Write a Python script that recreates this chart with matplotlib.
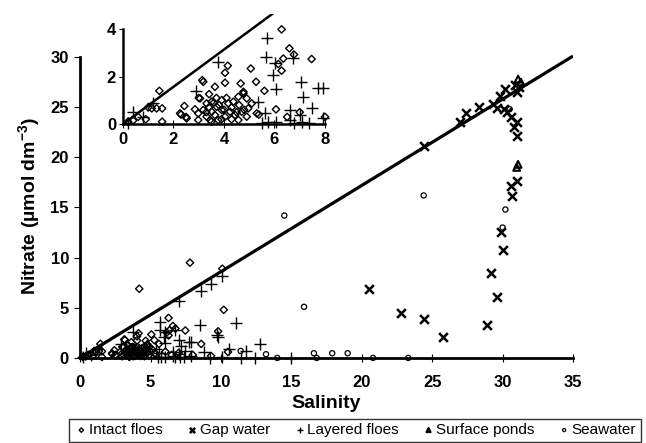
import numpy as np
import matplotlib.pyplot as plt

plt.rcParams['font.family'] = ['Liberation Sans', 'DejaVu Sans']
plt.rcParams['mathtext.fontset'] = 'custom'
plt.rcParams['mathtext.bf'] = 'Liberation Sans:bold'
plt.rcParams['mathtext.rm'] = 'Liberation Sans:bold'
plt.rcParams['mathtext.default'] = 'bf'

# salinity / nitrate pairs
intact_s = [0.2, 0.4, 0.6, 0.9, 1.0, 1.14, 1.33, 1.55, 1.44, 1.55,
            2.26, 2.43, 2.3, 2.5, 2.52, 2.85, 2.98, 2.98, 3.0, 3.05,
            3.14, 3.18, 3.18, 3.31, 3.31, 3.41, 3.45, 3.51, 3.51, 3.64,
            3.64, 3.71, 3.77, 3.91, 3.91, 4.04, 4.04, 4.04, 4.15, 4.17,
            4.24, 4.37, 4.44, 4.57, 4.57, 4.66, 4.7, 4.77, 4.77, 4.9,
            4.9, 4.96, 5.06, 5.1, 5.27, 5.3, 5.38, 5.6, 6.06, 6.15,
            6.28, 6.35, 6.28, 6.59, 6.77, 7.47,
            3.6, 3.8, 3.4, 4.0, 4.3, 4.5, 3.7, 4.1, 4.6, 3.3, 3.9, 4.3, 3.5, 4.8,
            4.2, 7.8, 10.1, 10.2, 9.8, 8.6, 10.5, 9.3, 8.0, 7.0, 6.5]
intact_n = [0.1, 0.15, 0.3, 0.2, 0.7, 0.66, 0.66, 0.66, 1.40, 0.1,
            0.45, 0.76, 0.4, 0.3, 0.24, 0.62, 0.45, 0.17, 1.1, 1.08,
            1.85, 1.78, 0.59, 0.87, 0.31, 1.26, 0.17, 0.94, 0.52, 1.57,
            0.38, 0.73, 0.17, 1.01, 0.59, 2.16, 1.74, 0.31, 2.46, 0.87,
            0.52, 0.94, 0.38, 1.15, 0.17, 1.71, 0.52, 1.29, 1.36, 1.08,
            0.31, 0.66, 2.34, 0.87, 1.78, 0.45, 0.4, 1.4, 0.62, 2.53,
            2.25, 2.76, 3.99, 3.19, 2.93, 2.74,
            0.9, 0.8, 0.7, 0.6, 0.7, 0.5, 1.1, 1.1, 0.8, 0.5, 0.2, 0.2, 0.1, 0.6,
            6.9, 9.5, 8.9, 4.8, 2.65, 1.4, 0.6, 0.2, 0.3, 0.5, 0.3]

gap_s = [20.5, 22.8, 24.4, 25.8, 28.9, 29.6, 29.2, 30.0, 29.9, 30.7,
         30.6, 31.0, 31.0, 31.0, 30.3, 30.6, 30.1, 24.4, 27.0, 27.4,
         28.3, 29.3, 29.8, 30.2, 30.9, 31.2, 31.0, 29.6, 30.8]
gap_n = [6.9, 4.5, 3.9, 2.1, 3.3, 6.1, 8.5, 10.8, 12.6, 16.1,
         17.1, 17.6, 22.1, 23.5, 24.5, 24.0, 24.8, 21.1, 23.5, 24.4,
         25.0, 25.3, 26.1, 26.8, 27.2, 27.0, 26.5, 24.9, 23.0]

layered_s = [0.41, 0.8, 0.2, 1.2, 2.89, 3.78, 5.69, 5.66, 6.02, 5.95,
             6.06, 6.75, 7.05, 7.14, 7.71, 7.91, 7.47, 5.36, 6.61, 5.62,
             7.01, 7.91, 5.52, 5.75, 6.05, 6.62, 6.77, 7.08, 7.37,
             8.6, 9.3, 10.1, 7.0, 11.1, 8.5, 9.7, 9.8, 12.8, 11.8,
             10.6, 8.8, 9.2, 10.1, 11.4, 12.4, 15.0]
layered_n = [0.52, 0.31, 0.05, 0.9, 1.40, 2.6, 3.61, 2.81, 2.58, 2.06,
             1.46, 2.79, 1.78, 1.15, 1.54, 1.54, 0.66, 0.94, 0.59, 0.45,
             0.38, 0.24, 0.05, 0.08, 0.1, 0.15, 0.05, 0.1, 0.05,
             6.7, 7.4, 8.2, 5.7, 3.5, 3.3, 2.3, 2.1, 1.4, 0.7,
             0.9, 0.6, 0.0, 0.1, 0.0, 0.0, 0.0]

ponds_s = [31.1, 31.0, 31.3, 31.1]
ponds_n = [19.3, 19.0, 27.5, 27.8]

sea_s = [24.4, 30.5, 30.2, 30.0, 15.9, 14.5, 13.2, 16.6, 17.9, 19.0,
         14.0, 16.8, 20.8, 23.3, 11.4]
sea_n = [16.2, 24.8, 14.8, 13.0, 5.1, 14.2, 0.37, 0.47, 0.47, 0.47,
         0.0, 0.0, 0.0, 0.0, 0.7]

mix_main = 0.86   # slope of the drawn dilution line, main panel
mix_inset = 0.785  # slope as drawn in the inset

series = [
    (intact_s, intact_n, 'D', 'Intact floes', dict(s=14, facecolors='none', edgecolors='black', linewidths=1.0)),
    (gap_s, gap_n, 'x', 'Gap water', dict(s=40, c='black', linewidths=1.8)),
    (layered_s, layered_n, '+', 'Layered floes', dict(s=64, c='black', linewidths=1.0)),
    (ponds_s, ponds_n, '^', 'Surface ponds', dict(s=24, facecolors='none', edgecolors='black', linewidths=1.5)),
    (sea_s, sea_n, 'o', 'Seawater', dict(s=14, facecolors='none', edgecolors='black', linewidths=0.9)),
]

fig = plt.figure(figsize=(6.46, 4.43), dpi=100)
ax = fig.add_axes([0.124, 0.192, 0.763, 0.686])

handles = []
for xs, ys, m, lab, kw in series:
    h = ax.scatter(xs, ys, marker=m, label=lab, clip_on=False, zorder=3, **kw)
    handles.append(h)

xl = np.array([0, 35])
ax.plot(xl, mix_main * xl, color='black', lw=2.3, zorder=2, solid_capstyle='butt')

ax.set_xlim(0, 35)
ax.set_ylim(0, 30.3)
ax.spines['top'].set_visible(False)
ax.spines['right'].set_visible(False)
ax.spines['left'].set_linewidth(2)
ax.spines['bottom'].set_linewidth(2)
ax.spines['left'].set_bounds(0, 30)
ax.set_xticks(np.arange(0, 36, 5))
ax.set_yticks(np.arange(0, 31, 5))
ax.tick_params(axis='x', direction='inout', length=6, width=0.8, labelsize=12, pad=9)
ax.tick_params(axis='y', direction='out', length=4, width=0.8, labelsize=12, pad=4)
for t in ax.get_xticklabels() + ax.get_yticklabels():
    t.set_fontweight('bold')
ax.set_xlabel('Salinity', fontsize=14, fontweight='bold', labelpad=4)
ax.set_ylabel(r'Nitrate (µmol dm$^{-3}$)', fontsize=14, fontweight='bold', labelpad=6)

# inset: zoom on the low-salinity corner
ins = fig.add_axes([0.1904, 0.72, 0.3166, 0.249])
for xs, ys, m, lab, kw in series:
    xs = np.array(xs)
    ys = np.array(ys)
    keep = (xs <= 8.05) & (ys <= 4.6)
    if keep.any():
        ins.scatter(xs[keep], ys[keep], marker=m, clip_on=False, zorder=3, **kw)
xi = np.array([0, 8])
ins.plot(xi, mix_inset * xi, color='black', lw=1.8, zorder=2)
ins.set_xlim(0, 8.1)
ins.set_ylim(0, 4.65)
ins.spines['top'].set_visible(False)
ins.spines['right'].set_visible(False)
ins.spines['left'].set_linewidth(1.8)
ins.spines['bottom'].set_linewidth(1.8)
ins.spines['left'].set_bounds(0, 4)
ins.spines['bottom'].set_bounds(0, 8)
ins.set_xticks([0, 2, 4, 6, 8])
ins.set_yticks([0, 2, 4])
ins.tick_params(axis='x', direction='inout', length=6, width=0.8, labelsize=12, pad=3)
ins.tick_params(axis='y', direction='out', length=3, width=0.8, labelsize=12, pad=2)
for t in ins.get_xticklabels() + ins.get_yticklabels():
    t.set_fontweight('bold')

leg = fig.legend(handles=handles, loc='lower left', bbox_to_anchor=(0.107, 0.003, 0.885, 0.05),
                 mode='expand', ncol=5, fontsize=11, frameon=True, fancybox=False,
                 handletextpad=0.0, columnspacing=0.5, handlelength=1.0, borderpad=0.3,
                 borderaxespad=0.0, markerscale=0.6)
leg.get_frame().set_edgecolor('black')
leg.get_frame().set_linewidth(1.0)

fig.savefig('out.png', dpi=100)
